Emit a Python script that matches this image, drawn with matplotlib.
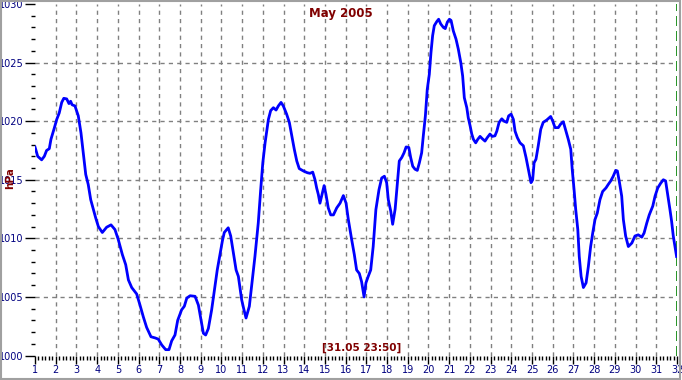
import numpy as np
import matplotlib
matplotlib.use('Agg')
import matplotlib.pyplot as plt
from matplotlib.patches import Rectangle
from matplotlib.ticker import MultipleLocator

# day of month (fractional) and pressure
days = [
    1.00, 1.13, 1.32, 1.45, 1.56, 1.69, 1.77, 1.93, 2.05, 2.17, 2.29, 2.39, 2.53, 2.64, 2.72, 2.79, 2.93,
    3.09, 3.22, 3.33, 3.45, 3.57, 3.69, 3.82, 3.93, 4.06, 4.25, 4.46, 4.67, 4.86, 5.02, 5.22, 5.38,
    5.51, 5.67, 5.91, 6.07, 6.23, 6.39, 6.60, 6.80, 6.95, 7.12, 7.31, 7.47, 7.60, 7.76, 7.89, 8.08,
    8.21, 8.33, 8.49, 8.73, 8.89, 9.02, 9.13, 9.24, 9.37, 9.53, 9.69, 9.80, 9.92, 10.05, 10.14, 10.33,
    10.45, 10.58, 10.71, 10.82, 10.98, 11.09, 11.19, 11.35, 11.46, 11.62, 11.78, 11.90, 12.00, 12.11,
    12.27, 12.38, 12.51, 12.64, 12.75, 12.88, 12.99, 13.15, 13.28, 13.40, 13.52, 13.64, 13.76, 13.96,
    14.15, 14.28, 14.41, 14.52, 14.60, 14.68, 14.76, 14.84, 14.96, 15.05, 15.16, 15.28, 15.41, 15.57,
    15.73, 15.89, 16.02, 16.13, 16.29, 16.42, 16.53, 16.66, 16.77, 16.89, 16.98, 17.09, 17.21, 17.33,
    17.46, 17.61, 17.74, 17.87, 17.98, 18.06, 18.18, 18.27, 18.39, 18.50, 18.59, 18.71, 18.82, 18.92,
    19.05, 19.14, 19.24, 19.35, 19.46, 19.56, 19.67, 19.75, 19.85, 19.94, 20.04, 20.12, 20.20, 20.28,
    20.40, 20.49, 20.59, 20.72, 20.81, 20.91, 21.01, 21.09, 21.20, 21.33, 21.44, 21.56, 21.65, 21.73,
    21.85, 21.92, 22.01, 22.09, 22.17, 22.28, 22.38, 22.49, 22.60, 22.73, 22.84, 22.97, 23.08, 23.21,
    23.30, 23.41, 23.54, 23.65, 23.78, 23.87, 23.99, 24.10, 24.18, 24.29, 24.42, 24.58, 24.71, 24.82,
    24.95, 25.03, 25.10, 25.19, 25.30, 25.42, 25.54, 25.71, 25.90, 26.00, 26.11, 26.27, 26.38, 26.51,
    26.64, 26.75, 26.87, 26.94, 27.03, 27.11, 27.21, 27.28, 27.37, 27.48, 27.61, 27.72, 27.83, 27.93,
    28.04, 28.15, 28.28, 28.41, 28.57, 28.68, 28.80, 28.92, 29.04, 29.12, 29.21, 29.33, 29.41, 29.52,
    29.65, 29.82, 29.97, 30.13, 30.30, 30.41, 30.54, 30.66, 30.83, 30.94, 31.07, 31.21, 31.34, 31.45,
    31.55, 31.66, 31.74, 31.82, 31.90, 31.98,
]
pressure = [
    1017.8, 1017.0, 1016.7, 1017.0, 1017.5, 1017.65, 1018.45, 1019.4, 1020.15, 1020.7, 1021.6, 1021.95, 1021.9, 1021.5, 1021.7, 1021.4, 1021.3,
    1020.45, 1019.0, 1017.3, 1015.45, 1014.6, 1013.3, 1012.45, 1011.75, 1011.0, 1010.5, 1010.95, 1011.15, 1010.75, 1009.9, 1008.6, 1007.75,
    1006.45, 1005.8, 1005.25, 1004.3, 1003.3, 1002.4, 1001.6, 1001.5, 1001.4, 1000.9, 1000.5, 1000.5, 1001.25, 1001.75, 1003.0, 1003.9,
    1004.2, 1004.9, 1005.1, 1005.05, 1004.3, 1003.0, 1001.9, 1001.75, 1002.3, 1003.9, 1005.9, 1007.3, 1008.5, 1009.8, 1010.5, 1010.9,
    1010.2, 1008.75, 1007.3, 1006.75, 1004.75, 1003.9, 1003.2, 1004.2, 1005.9, 1008.45, 1011.3, 1014.2, 1016.45, 1018.15,
    1020.15, 1020.9, 1021.15, 1020.95, 1021.3, 1021.6, 1021.3, 1020.6, 1019.9, 1018.75, 1017.6, 1016.6, 1015.95, 1015.75,
    1015.6, 1015.55, 1015.65, 1015.0, 1014.3, 1013.75, 1013.0, 1013.6, 1014.5, 1013.75, 1012.6, 1012.0, 1012.0, 1012.6,
    1013.0, 1013.65, 1013.0, 1011.6, 1009.9, 1008.6, 1007.3, 1007.0, 1006.3, 1005.0, 1006.2, 1006.75, 1007.3, 1009.3,
    1012.45, 1014.15, 1015.15, 1015.3, 1014.75, 1013.3, 1012.3, 1011.2, 1012.5, 1014.75, 1016.6, 1016.9, 1017.3, 1017.8,
    1017.75, 1016.9, 1016.15, 1015.9, 1015.8, 1016.45, 1017.3, 1018.75, 1020.45, 1022.7, 1024.0, 1025.85, 1027.3, 1028.15,
    1028.5, 1028.7, 1028.3, 1028.0, 1027.9, 1028.45, 1028.7, 1028.6, 1027.7, 1027.0, 1026.15, 1025.0, 1023.85, 1022.0,
    1021.15, 1020.3, 1019.6, 1018.9, 1018.45, 1018.15, 1018.45, 1018.7, 1018.5, 1018.3, 1018.6, 1018.9, 1018.7, 1018.75,
    1019.15, 1019.9, 1020.2, 1020.0, 1019.9, 1020.45, 1020.6, 1020.15, 1019.15, 1018.6, 1018.15, 1017.9, 1016.9, 1015.9,
    1014.75, 1015.0, 1016.45, 1016.75, 1017.9, 1019.3, 1019.9, 1020.1, 1020.4, 1020.0, 1019.45, 1019.45, 1019.75, 1019.95,
    1019.15, 1018.45, 1017.6, 1015.9, 1014.15, 1012.45, 1010.75, 1008.45, 1006.75, 1005.8, 1006.2, 1007.6, 1009.3, 1010.45,
    1011.6, 1012.15, 1013.3, 1014.0, 1014.3, 1014.6, 1014.9, 1015.3, 1015.8, 1015.75, 1014.9, 1013.6, 1011.6, 1010.2,
    1009.3, 1009.6, 1010.2, 1010.3, 1010.1, 1010.45, 1011.3, 1012.0, 1012.75, 1013.6, 1014.3, 1014.7, 1015.0, 1014.9,
    1013.75, 1012.45, 1011.45, 1010.2, 1009.3, 1008.45,
]

day_ticks = list(range(1, 33))
p_ticks = [1000, 1005, 1010, 1015, 1020, 1025, 1030]
title = 'May 2005'
stamp = '[31.05 23:50]'
unit = 'hPa'

navy = '#000080'
darkred = '#800000'
gridgray = '#808080'

fig = plt.figure(figsize=(6.82, 3.80), dpi=100)
ax = fig.add_axes([35 / 682, 1 - 355.5 / 380, 642 / 682, 351.5 / 380])

ax.set_xlim(1, 32)
ax.set_ylim(1000, 1030)

# dashed grid
for d in day_ticks[1:-1]:
    ax.axvline(d, color=gridgray, lw=1, ls=(0, (3, 3)), zorder=1)
for p in p_ticks[1:-1]:
    ax.axhline(p, color=gridgray, lw=1, ls=(0, (3, 3)), zorder=1)
ax.axvline(day_ticks[-1], color='#008000', lw=1.2, ls=(0, (6, 3)), zorder=1)

ax.plot(days, pressure, color='#0000ff', lw=2.0, zorder=3)

for s in ax.spines.values():
    s.set_visible(False)

ax.set_xticks(day_ticks)
ax.set_yticks(p_ticks)
ax.xaxis.set_minor_locator(MultipleLocator(1 / 6))
ax.yaxis.set_minor_locator(MultipleLocator(1))
ax.tick_params(axis='y', which='major', length=7, width=1, color='black',
               labelsize=7, labelcolor=navy, pad=1)
ax.tick_params(axis='y', which='minor', length=3, width=1, color='black')
ax.tick_params(axis='x', which='major', length=6, width=1, color='black',
               labelsize=7, labelcolor=navy, pad=1)
ax.tick_params(axis='x', which='minor', length=3, width=1, color='black')

fig.text(341 / 682, 1 - 13 / 380, title, color=darkred, fontsize=8.5,
         fontweight='bold', ha='center', va='center')
fig.text(362 / 682, 1 - 347.5 / 380, stamp, color=darkred, fontsize=7.5,
         fontweight='bold', ha='center', va='center')
# unit label sits over the 1015 label, as in the original
fig.text(10 / 682, 1 - 178 / 380, unit, color=darkred, fontsize=7.5,
         fontweight='bold', rotation=90, ha='center', va='center', zorder=5)

# window-style frame around the picture
fig.patches.append(Rectangle((0.001, 0.003), 0.996, 0.994, transform=fig.transFigure,
                             fill=False, edgecolor='#a0a0a0', lw=1.5))

fig.savefig('out.png', dpi=100)
